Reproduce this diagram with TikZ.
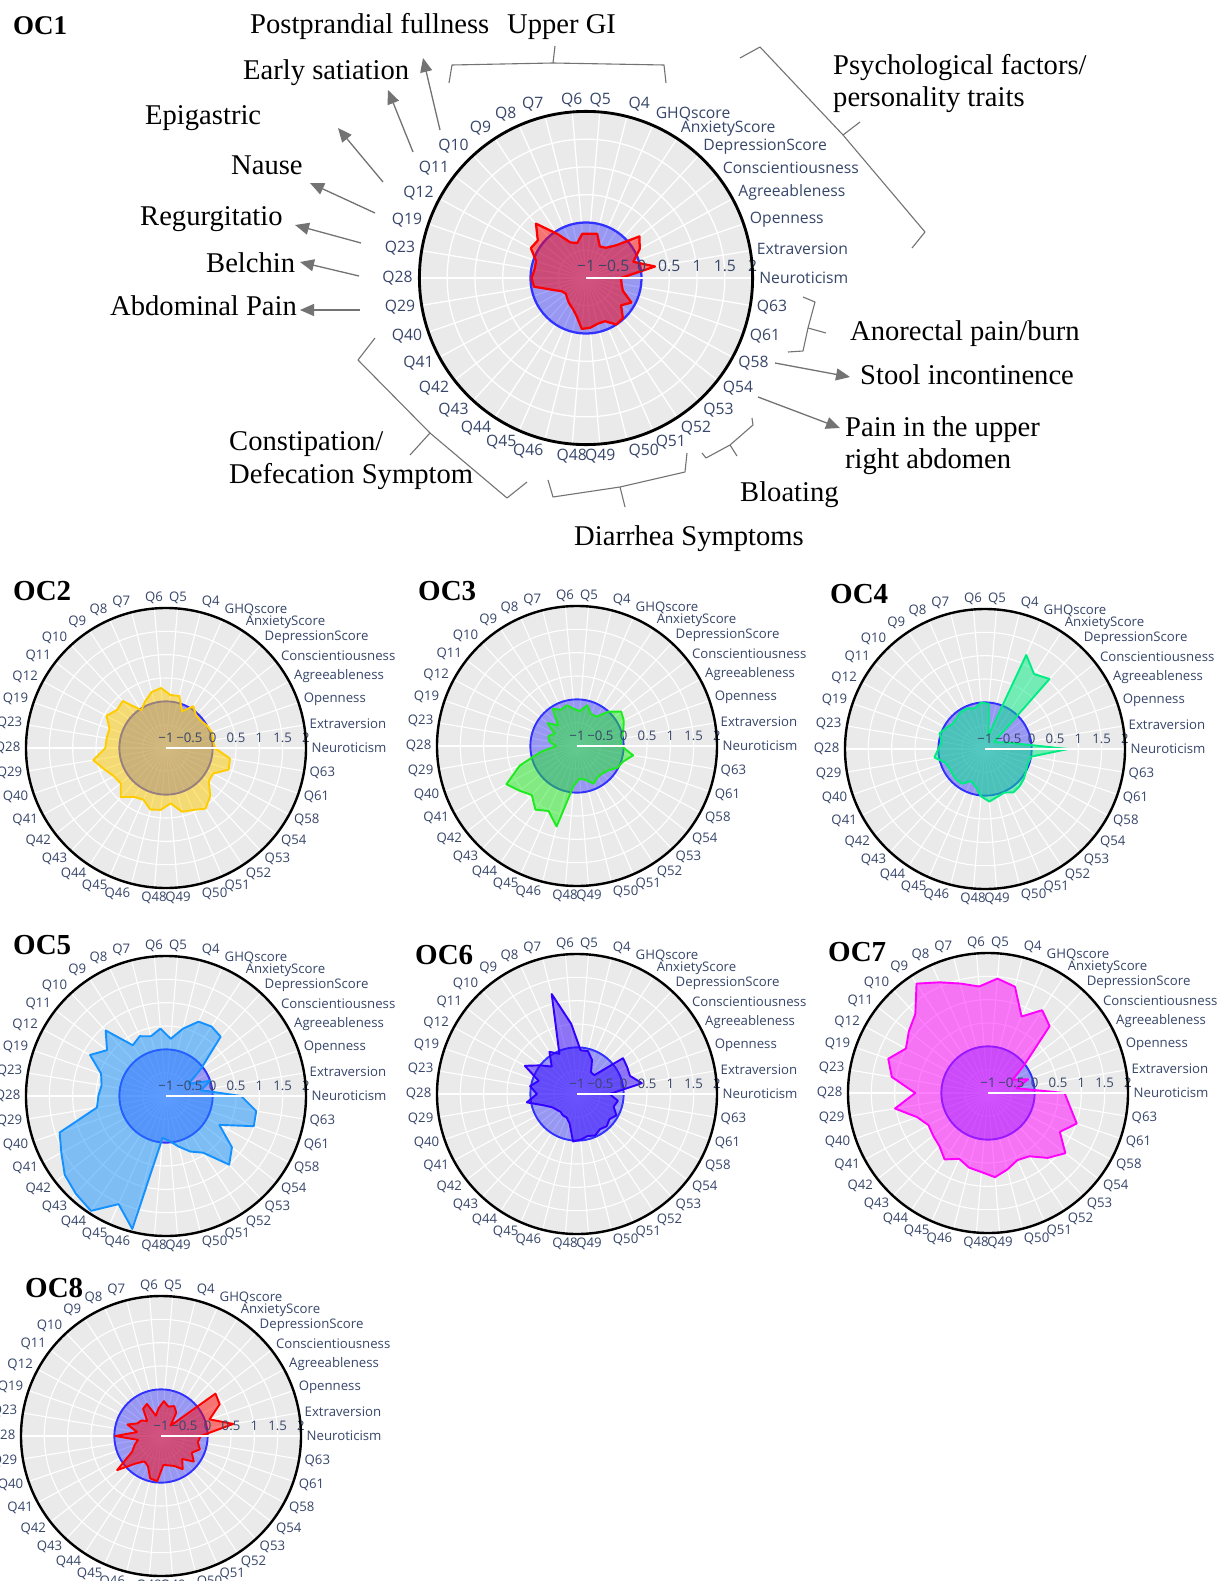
\documentclass[tikz,border=0pt]{standalone}
\usepackage{fontspec}
\setmainfont{Liberation Serif}
\newfontfamily\osans{Open Sans}
\usetikzlibrary{arrows.meta}
\definecolor{gridbg}{RGB}{234,234,234}
\definecolor{labcol}{RGB}{55,70,105}
\definecolor{refblue}{RGB}{0,0,255}
\definecolor{refedge}{RGB}{50,50,255}
\definecolor{annot}{RGB}{115,115,115}
\definecolor{cRed}{RGB}{255,0,0}
\definecolor{cGold}{RGB}{255,204,0}
\definecolor{cLime}{RGB}{30,235,30}
\definecolor{cSpring}{RGB}{0,235,130}
\definecolor{cSky}{RGB}{20,145,255}
\definecolor{cIndigo}{RGB}{50,0,255}
\definecolor{cMagenta}{RGB}{255,0,255}
\def\catnames{Neuroticism,Extraversion,Openness,Agreeableness,Conscientiousness,DepressionScore,AnxietyScore,GHQscore,Q4,Q5,Q6,Q7,Q8,Q9,Q10,Q11,Q12,Q19,Q23,Q28,Q29,Q40,Q41,Q42,Q43,Q44,Q45,Q46,Q48,Q49,Q50,Q51,Q52,Q53,Q54,Q58,Q61,Q63}
\tikzset{
  lab/.style={font=\osans\fontsize{\fs}{\fs}\selectfont, text=labcol, inner sep=0pt},
  ann/.style={font=\fontsize{28.6}{30}\selectfont, inner sep=0pt, anchor=base west},
  oclab/.style={font=\bfseries\fontsize{29}{31}\selectfont, inner sep=0pt, anchor=base west},
  arr/.style={draw=annot, line width=1.3pt, -{Triangle[length=14pt,width=12pt]}},
  grbrace/.style={draw=annot, line width=1.1pt, line join=round},
}
\newcommand\radarchart[5]{%
\begin{scope}[shift={#2}]
\pgfmathsetmacro\RR{140*#3}%
\pgfmathsetmacro\fs{13.2*#3}%
\pgfmathsetmacro\gap{5.5*#3}%
\pgfmathsetmacro\lwg{1.1*#3}%
\pgfmathsetmacro\lwa{2.2*#3}%
\pgfmathsetmacro\lwo{2.4*#3}%
\pgfmathsetmacro\lwp{1.9*#3}%
\pgfmathsetmacro\tky{5*#3}%
\fill[gridbg] (0,0) circle (\RR);
\foreach \k in {1,...,5}{\draw[white,line width=\lwg pt] (0,0) circle ({\k*\RR/6});}
\foreach \k in {0,...,37}{\draw[white,line width=\lwg pt] (0,0) -- ({\k*360/38}:\RR);}
\draw[refedge,line width=\lwp pt,fill=refblue,fill opacity=0.35] (0,0) circle ({\RR/3});
\foreach \v [count=\i from 0] in {#5}{%
  \pgfmathsetmacro\ang{\i*360/38}%
  \pgfmathsetmacro\rr{(\v+1)*\RR/3}%
  \coordinate (#1p\i) at (\ang:\rr);}
\filldraw[draw=#4,fill=#4,fill opacity=0.5,line width=\lwp pt,line join=round] (#1p0) \foreach \i in {1,...,37}{ -- (#1p\i)} -- cycle;
\draw[white,line width=\lwa pt] (0,0) -- (\RR,0);
\foreach \tl [count=\j from 0] in {−1,−0.5,0,0.5,1,1.5,2}{%
  \node[lab,anchor=south] (#1t\j) at ({\j*\RR/6},\tky) {\tl};}
\draw[black,line width=\lwo pt] (0,0) circle (\RR);
\foreach \lab [count=\i from 0] in \catnames {%
  \pgfmathsetmacro\ang{\i*360/38}%
  \pgfmathtruncatemacro\code{(cos(\ang)>0.1)-(cos(\ang)<-0.1)}%
  \pgfmathsetmacro\ysh{sin(\ang)*0.37*\fs}%
  \ifnum\code=1 \def\anc{west}\else\ifnum\code=-1 \def\anc{east}\else\def\anc{center}\fi\fi
  \node[lab,anchor=\anc,yshift=\ysh pt] (#1l\i) at (\ang:{\RR+\gap}) {\lab};}
\end{scope}}
\begin{document}
\begin{tikzpicture}[x=1pt,y=1pt]
\useasboundingbox (0,0) rectangle (1220,-1581);
\clip (0,0) rectangle (1220,-1581);
\fill[white] (0,0) rectangle (1220,-1581);

% ---------- charts ----------
\radarchart{oc1}{(586,-278)}{1.19}{cRed}{-0.37,0.26,-0.1,0.1,0.22,-0.2,-0.35,-0.38,-0.18,-0.2,-0.2,-0.35,-0.3,-0.05,0.33,0.1,0.13,-0.05,-0.06,-0.02,-0.05,-0.35,-0.5,-0.54,-0.5,-0.45,-0.4,-0.3,-0.08,-0.1,-0.15,-0.15,0.0,-0.02,-0.2,-0.07,-0.3,-0.35}
\radarchart{oc2}{(166,-748)}{1}{cGold}{0.05,0.02,0.04,0.0,-0.05,-0.05,0.07,-0.14,0.15,0.14,0.29,0.24,0.1,-0.03,0.37,0.33,0.45,0.28,0.29,0.3,0.58,0.4,0.27,0.23,0.43,0.25,0.21,0.36,0.33,0.19,0.41,0.45,0.55,0.4,0.16,0.15,0.42,0.39}
\radarchart{oc3}{(577,-746)}{1}{cLime}{-0.05,-0.03,0.05,0.14,0.2,0.0,-0.25,-0.25,-0.1,-0.25,-0.2,-0.1,-0.15,-0.05,-0.4,-0.2,-0.45,-0.35,-0.4,-0.55,-0.2,0.3,0.72,0.56,0.43,0.63,0.52,0.78,-0.15,-0.3,-0.25,-0.12,-0.2,-0.2,-0.15,-0.02,0.04,0.22}
\radarchart{oc4}{(985,-749)}{1}{cSpring}{0.78,-0.3,-0.55,-0.7,-0.75,1.04,0.92,1.2,-0.7,-0.03,0.0,-0.1,-0.05,-0.05,-0.1,-0.12,-0.05,0.03,-0.06,0.0,0.1,-0.1,-0.13,-0.12,-0.1,-0.11,-0.25,-0.17,0.02,0.13,0.06,0.02,0.11,0.09,0.05,0.0,-0.03,0.0}
\radarchart{oc5}{(166,-1096)}{1}{cSky}{0.61,-0.24,0.0,-0.45,-0.05,0.73,0.78,0.74,0.49,0.23,0.45,0.32,0.4,0.3,0.91,0.6,0.85,0.47,0.4,0.45,0.5,1.41,1.55,1.75,1.85,1.94,1.53,1.94,-0.1,-0.03,0.12,0.3,0.45,1.0,0.79,0.3,0.99,0.96}
\radarchart{oc6}{(577,-1094)}{1}{cIndigo}{-0.3,0.41,0.2,0.22,0.25,-0.45,-0.45,-0.2,-0.05,-0.06,0.51,1.21,-0.06,0.08,-0.2,0.0,0.27,-0.13,0.02,-0.14,0.09,-0.25,-0.4,-0.45,-0.48,-0.45,-0.45,-0.35,0.02,-0.02,-0.07,-0.03,-0.1,-0.06,-0.12,-0.04,-0.17,-0.11}
\radarchart{oc7}{(988,-1093)}{1}{cMagenta}{0.64,-0.38,-0.09,-0.4,-0.01,0.95,1.12,0.79,1.35,1.46,1.29,1.42,1.59,1.8,1.3,1.15,1.0,1.26,1.09,0.56,1.02,0.6,0.45,0.49,0.54,0.7,0.54,0.65,0.7,0.81,0.69,0.57,0.62,0.89,1.1,0.75,1.01,0.78}
\radarchart{oc8}{(161,-1436)}{1}{cRed}{-0.15,0.57,0.1,0.43,0.48,-0.7,-0.4,-0.3,-0.35,-0.25,-0.4,-0.55,-0.25,-0.3,-0.56,-0.46,-0.43,-0.24,-0.48,-0.02,-0.5,-0.4,-0.3,0.19,-0.2,-0.35,-0.3,-0.06,-0.03,-0.38,-0.35,-0.3,-0.15,-0.33,-0.11,-0.25,-0.12,-0.2}

% ---------- chart titles ----------
\node[oclab,font=\bfseries\fontsize{27}{29}\selectfont] (n1) at (13,-35) {OC1};
\node[oclab] (n2) at (13,-600) {OC2};
\node[oclab] (n3) at (418,-600) {OC3};
\node[oclab] (n4) at (830,-603) {OC4};
\node[oclab] (n5) at (13,-954) {OC5};
\node[oclab] (n6) at (415,-964) {OC6};
\node[oclab] (n7) at (828,-961) {OC7};
\node[oclab] (n8) at (25,-1297) {OC8};

% ---------- annotations ----------
\node[ann] (tPost) at (250,-34) {Postprandial fullness};
\node[ann] (tUpper) at (507,-34) {Upper GI};
\node[ann] (tEarly) at (243,-80) {Early satiation};
\node[ann] (tEpi) at (145,-125) {Epigastric};
\node[ann] (tNause) at (231,-175) {Nause};
\node[ann] (tReg) at (140,-225) {Regurgitatio};
\node[ann] (tBel) at (206,-272) {Belchin};
\node[ann] (tAbd) at (110,-315) {Abdominal Pain};
\node[ann] (tCon1) at (229,-450) {Constipation/};
\node[ann] (tCon2) at (229,-483) {Defecation Symptom};
\node[ann] (tPsy1) at (833,-75) {Psychological factors/};
\node[ann] (tPsy2) at (833,-107) {personality traits};
\node[ann] (tAno) at (850,-340) {Anorectal pain/burn};
\node[ann] (tStool) at (860,-384) {Stool incontinence};
\node[ann] (tPain1) at (845,-436) {Pain in the upper};
\node[ann] (tPain2) at (845,-468) {right abdomen};
\node[ann] (tBloat) at (740,-501) {Bloating};
\node[ann] (tDia) at (574,-545) {Diarrhea Symptoms};

% arrows
\coordinate (a1s) at (440,-130); \coordinate (a1e) at (423,-58);
\coordinate (a2s) at (413,-152); \coordinate (a2e) at (388,-90);
\coordinate (a3s) at (383,-182); \coordinate (a3e) at (338,-128);
\coordinate (a4s) at (375,-213); \coordinate (a4e) at (310,-183);
\coordinate (a5s) at (361,-243); \coordinate (a5e) at (295,-225);
\coordinate (a6s) at (359,-276); \coordinate (a6e) at (300,-262);
\coordinate (a7s) at (360,-310); \coordinate (a7e) at (300,-310);
\coordinate (a8s) at (775,-363); \coordinate (a8e) at (850,-377);
\coordinate (a9s) at (758,-397); \coordinate (a9e) at (840,-428);
\foreach \a in {1,...,9}{\draw[arr] (a\a s) -- (a\a e);}

% braces
\draw[grbrace] (449,-83) -- (452,-65) -- (553,-63) -- (664,-65) -- (666,-83);
\draw[grbrace] (553,-63) -- (555,-46);
\draw[grbrace] (740,-58) -- (760,-47) -- (843,-135) -- (925,-232) -- (912,-248);
\draw[grbrace] (843,-135) -- (860,-122);
\draw[grbrace] (803,-297) -- (815,-302) -- (808,-328) -- (803,-351) -- (788,-352);
\draw[grbrace] (808,-328) -- (826,-333);
\draw[grbrace] (752,-418) -- (753,-425) -- (730,-445) -- (706,-458) -- (702,-453);
\draw[grbrace] (730,-445) -- (737,-456);
\draw[grbrace] (548,-480) -- (553,-497) -- (620,-487) -- (685,-472) -- (687,-453);
\draw[grbrace] (620,-487) -- (625,-507);
\draw[grbrace] (375,-338) -- (358,-360) -- (430,-433) -- (507,-498) -- (527,-482);
\draw[grbrace] (430,-433) -- (410,-455);
\end{tikzpicture}
\end{document}
